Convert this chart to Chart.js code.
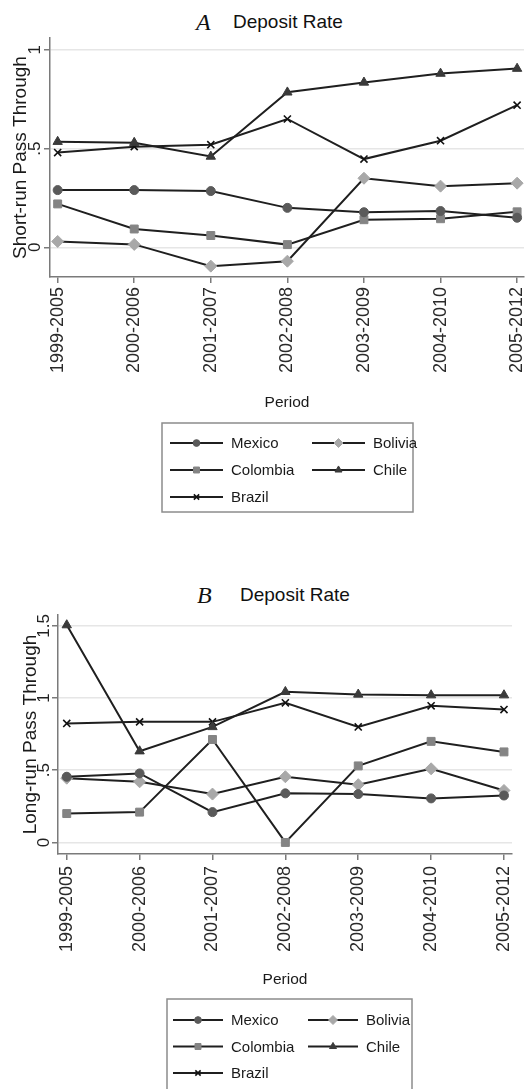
<!DOCTYPE html>
<html>
<head>
<meta charset="utf-8">
<script src="https://cdn.jsdelivr.net/npm/chart.js@4.4.1/dist/chart.umd.min.js"></script>
<style>
  body { margin: 0; background: #fff; }
  #page { position: relative; width: 531px; height: 1089px; overflow: hidden; background: #fff; }
  canvas { position: absolute; left: 0; }
  .ttl { position: absolute; line-height: 24px; color: #111; white-space: nowrap; }
  .letter { font-family: "Liberation Serif", "Times New Roman", serif; font-style: italic; font-size: 24px; }
  .name { font-family: "Liberation Sans", Arial, sans-serif; font-size: 19px; }
</style>
</head>
<body>
<div id="page">
  <span class="ttl letter" style="left:196px; top:10px;">A</span>
  <span class="ttl name" style="left:233px; top:10px;">Deposit Rate</span>
  <canvas id="chartA" width="531" height="530" style="top:0px;"></canvas>

  <span class="ttl letter" style="left:197px; top:583px;">B</span>
  <span class="ttl name" style="left:240px; top:583px;">Deposit Rate</span>
  <canvas id="chartB" width="531" height="539" style="top:550px;"></canvas>
</div>
<script>
// *** data ***
const PERIODS = ['1999-2005', '2000-2006', '2001-2007', '2002-2008', '2003-2009', '2004-2010', '2005-2012'];
const COUNTRIES = ['Mexico', 'Bolivia', 'Colombia', 'Chile', 'Brazil'];

// panel A: short-run pass through
const SHORT_MEXICO   = [0.29, 0.29, 0.285, 0.20, 0.178, 0.184, 0.15];
const SHORT_BOLIVIA  = [0.03, 0.015, -0.095, -0.07, 0.35, 0.31, 0.325];
const SHORT_COLOMBIA = [0.22, 0.093, 0.06, 0.014, 0.14, 0.145, 0.18];
const SHORT_CHILE    = [0.535, 0.53, 0.46, 0.785, 0.835, 0.88, 0.905];
const SHORT_BRAZIL   = [0.48, 0.51, 0.52, 0.65, 0.447, 0.54, 0.72];
const SHORT_TICKS    = [0, 0.5, 1];

// panel B: long-run pass through
const LONG_MEXICO   = [0.455, 0.478, 0.21, 0.34, 0.335, 0.305, 0.325];
const LONG_BOLIVIA  = [0.445, 0.42, 0.335, 0.455, 0.40, 0.51, 0.36];
const LONG_COLOMBIA = [0.20, 0.21, 0.713, 0.0, 0.53, 0.70, 0.627];
const LONG_CHILE    = [1.505, 0.632, 0.80, 1.043, 1.025, 1.02, 1.02];
const LONG_BRAZIL   = [0.824, 0.835, 0.835, 0.967, 0.80, 0.946, 0.92];
const LONG_TICKS    = [0, 0.5, 1, 1.5];

// *** styles ***
const SANS = '"Liberation Sans", Arial, sans-serif';
const LINE_COLOR = '#1f1f1f';
const POINT_STYLES = ['circle', 'rectRot', 'rect', 'triangle', 'crossRot'];
const POINT_COLORS = ['#5a5a5a', '#a8a8a8', '#848484', '#3a3a3a', '#111111'];
const POINT_SIZES = [4.5, 6, 5.6, 5.4, 5];

function tickText(v) {
    if (v === 0) return '0';
    return String(v).replace(/^0\./, '.');
}

function makeDatasets(series) {
    return COUNTRIES.map(function (name, i) {
        return {
            label: name,
            data: series[i].map(function (v, j) { return { x: j, y: v }; }),
            borderColor: LINE_COLOR,
            borderWidth: 2,
            tension: 0,
            pointStyle: POINT_STYLES[i],
            pointRadius: POINT_SIZES[i],
            pointBackgroundColor: POINT_COLORS[i],
            pointBorderColor: POINT_COLORS[i],
            pointBorderWidth: POINT_STYLES[i] === 'crossRot' ? 1.6 : 1,
            clip: false
        };
    });
}

// legend in a framed box, two columns (Stata style)
const boxLegend = {
    id: 'boxLegend',
    afterDraw: function (chart, args, o) {
        const ctx = chart.ctx;
        ctx.save();
        ctx.strokeStyle = '#8c8c8c';
        ctx.lineWidth = 1.5;
        ctx.strokeRect(o.x, o.y, o.w, o.h);
        ctx.font = '15px ' + SANS;
        ctx.textBaseline = 'middle';
        ctx.textAlign = 'left';
        chart.data.datasets.forEach(function (ds, i) {
            const col = i % 2, row = Math.floor(i / 2);
            const lx = o.x + o.pad + col * o.col2;
            const ly = o.y + o.row0 + row * o.rowGap;
            ctx.strokeStyle = ds.borderColor;
            ctx.lineWidth = 2;
            ctx.beginPath();
            ctx.moveTo(lx, ly);
            ctx.lineTo(lx + o.len, ly);
            ctx.stroke();
            ctx.fillStyle = ds.pointBackgroundColor;
            ctx.strokeStyle = ds.pointBorderColor;
            ctx.lineWidth = ds.pointBorderWidth;
            const pt = { pointStyle: ds.pointStyle, radius: ds.pointRadius * 0.75, borderWidth: ds.pointBorderWidth, rotation: 0 };
            if (Chart.helpers && Chart.helpers.drawPoint) {
                Chart.helpers.drawPoint(ctx, pt, lx + o.len / 2, ly);
            } else {
                ctx.beginPath();
                ctx.arc(lx + o.len / 2, ly, pt.radius, 0, Math.PI * 2);
                ctx.fill();
            }
            ctx.fillStyle = '#1a1a1a';
            ctx.fillText(ds.label, lx + o.len + o.gap, ly + 1);
        });
        ctx.restore();
    }
};

function makeChart(id, series, yTicks, yTitle, g) {
    const ctx = document.getElementById(id).getContext('2d');
    return new Chart(ctx, {
        type: 'line',
        data: { datasets: makeDatasets(series) },
        plugins: [boxLegend],
        options: {
            responsive: false,
            animation: false,
            events: [],
            layout: { padding: { top: g.top, left: 0, right: g.right, bottom: g.bottom } },
            plugins: {
                legend: { display: false },
                tooltip: { enabled: false },
                boxLegend: g.legend
            },
            scales: {
                x: {
                    type: 'linear',
                    min: g.xMin,
                    max: g.xMax,
                    afterBuildTicks: function (s) { s.ticks = PERIODS.map(function (p, i) { return { value: i }; }); },
                    afterFit: function (s) { s.height = g.xH; s.paddingLeft = 0; s.paddingRight = 0; },
                    grid: { drawOnChartArea: false, drawTicks: true, tickLength: 6, tickColor: '#7a7a7a', lineWidth: 1.5 },
                    border: { color: '#7a7a7a', width: 1.5 },
                    ticks: {
                        autoSkip: false, minRotation: 90, maxRotation: 90, padding: g.xPad,
                        color: '#2a2a2a', font: { family: SANS, size: 18, lineHeight: 0.5 },
                        callback: function (v) { return PERIODS[v]; }
                    },
                    title: { display: true, text: 'Period', color: '#1a1a1a', font: { family: SANS, size: 15.5, lineHeight: 1.3 }, padding: 0 }
                },
                y: {
                    min: g.yMin,
                    max: g.yMax,
                    afterBuildTicks: function (s) { s.ticks = yTicks.map(function (v) { return { value: v }; }); },
                    afterFit: function (s) { s.width = g.yW; s.paddingTop = 0; s.paddingBottom = 0; },
                    grid: { color: '#e6e6e6', lineWidth: 1.5, tickColor: '#7a7a7a', tickLength: 6 },
                    border: { color: '#7a7a7a', width: 1.5 },
                    ticks: {
                        minRotation: 90, maxRotation: 90, crossAlign: 'center', padding: g.yPad,
                        color: '#222', font: { family: SANS, size: 17 },
                        callback: function (v) { return tickText(v); }
                    },
                    title: { display: true, text: yTitle, color: '#1a1a1a', font: { family: SANS, size: 19 }, padding: { top: g.yTitlePad, bottom: 0 } }
                }
            }
        }
    });
}

makeChart('chartA',
    [SHORT_MEXICO, SHORT_BOLIVIA, SHORT_COLOMBIA, SHORT_CHILE, SHORT_BRAZIL],
    SHORT_TICKS, 'Short-run Pass Through',
    {
        top: 38, right: 0, bottom: 117, xH: 136, yW: 50,
        xMin: -0.1, xMax: 6.09, yMin: -0.15, yMax: 1.06,
        xPad: 4, yPad: 2, yTitlePad: 9,
        legend: { x: 162, y: 423, w: 251, h: 89, pad: 8, col2: 142, row0: 20, rowGap: 27, len: 53, gap: 8 }
    });

makeChart('chartB',
    [LONG_MEXICO, LONG_BOLIVIA, LONG_COLOMBIA, LONG_CHILE, LONG_BRAZIL],
    LONG_TICKS, 'Long-run Pass Through',
    {
        top: 65, right: 19, bottom: 99.5, xH: 135.5, yW: 58,
        xMin: -0.12, xMax: 6.11, yMin: -0.08, yMax: 1.575,
        xPad: 6, yPad: -4, yTitlePad: 19,
        legend: { x: 167, y: 449, w: 245, h: 92, pad: 6, col2: 135, row0: 21, rowGap: 26.5, len: 50, gap: 8 }
    });
</script>
</body>
</html>
